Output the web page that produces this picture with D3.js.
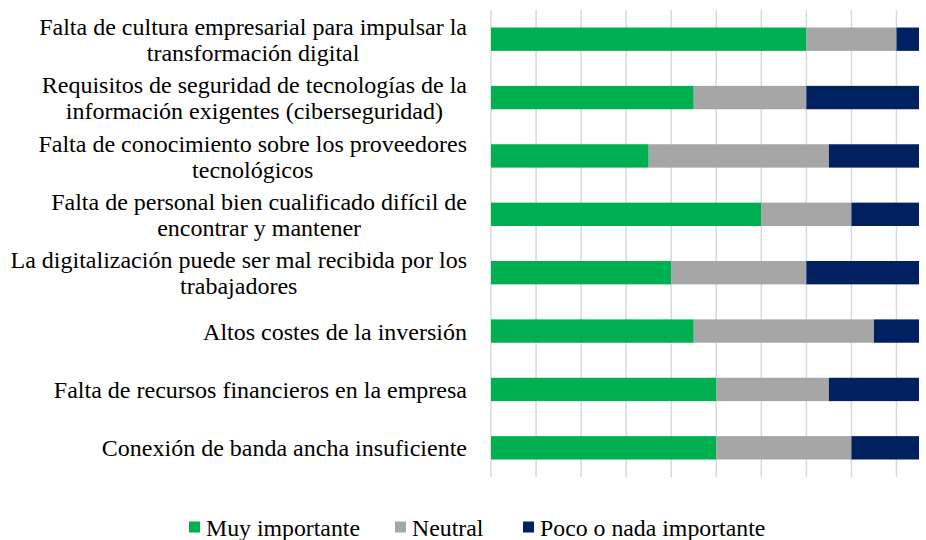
<!DOCTYPE html>
<html>
<head>
<meta charset="utf-8">
<script src="https://cdn.jsdelivr.net/npm/d3@7"></script>
<style>
  html, body { margin: 0; padding: 0; background: #fff; }
  svg { display: block; font-family: "Liberation Serif", "Times New Roman", serif; }
</style>
</head>
<body>
<svg id="chart" width="926" height="540"></svg>
<script>
// Barriers to digitalisation — responses per category (n = 19)
const categories = [
  ['Falta de cultura empresarial para impulsar la', 'transformación digital'],
  ['Requisitos de seguridad de tecnologías de la', 'información exigentes (ciberseguridad)'],
  ['Falta de conocimiento sobre los proveedores', 'tecnológicos'],
  ['Falta de personal bien cualificado difícil de', 'encontrar y mantener'],
  ['La digitalización puede ser mal recibida por los', 'trabajadores'],
  ['Altos costes de la inversión'],
  ['Falta de recursos financieros en la empresa'],
  ['Conexión de banda ancha insuficiente'],
];
const seriesNames = ['Muy importante', 'Neutral', 'Poco o nada importante'];
const muyImportante = [14, 9, 7, 12, 8, 9, 10, 10];
const neutral       = [4, 5, 8, 4, 6, 8, 5, 6];
const pocoONada     = [1, 5, 4, 3, 5, 2, 4, 3];
const gridTicks = [0, 2, 4, 6, 8, 10, 12, 14, 16, 18];
const xMax = 19;

const colors = ['#00B050', '#A6A6A6', '#002060'];

const svg = d3.select('#chart');
const plot = { left: 491, right: 919, top: 10, bottom: 477 };

const rows = categories.map((c, i) => ({
  key: i, label: c,
  [seriesNames[0]]: muyImportante[i],
  [seriesNames[1]]: neutral[i],
  [seriesNames[2]]: pocoONada[i],
}));

const x = d3.scaleLinear().domain([0, xMax]).range([plot.left, plot.right]);
const y = d3.scaleBand().domain(rows.map(r => r.key))
  .range([plot.top, plot.bottom]).paddingInner(0.6).paddingOuter(0.3);

// vertical gridlines (no tick labels in the original)
svg.append('g')
  .selectAll('line')
  .data(gridTicks)
  .join('line')
    .attr('x1', d => x(d)).attr('x2', d => x(d))
    .attr('y1', plot.top).attr('y2', plot.bottom)
    .attr('stroke', '#D9D9D9').attr('stroke-width', 1.5);

const stacked = d3.stack().keys(seriesNames)(rows);

svg.append('g')
  .selectAll('g')
  .data(stacked)
  .join('g')
    .attr('fill', (d, i) => colors[i])
  .selectAll('rect')
  .data(d => d)
  .join('rect')
    .attr('x', d => x(d[0]))
    .attr('y', d => y(d.data.key))
    .attr('width', d => x(d[1]) - x(d[0]))
    .attr('height', y.bandwidth());

// category labels: lines centred on each other, block right-aligned
const fontSize = 24;
const lineGap = 26;
const labelRight = 467;
const labels = svg.append('g').attr('font-size', fontSize).attr('fill', '#000');
rows.forEach(r => {
  const cy = y(r.key) + y.bandwidth() / 2;
  const g = labels.append('g');
  const n = r.label.length;
  const texts = r.label.map((line, j) => g.append('text')
    .attr('y', cy + (j - (n - 1) / 2) * lineGap + fontSize * 0.36)
    .attr('text-anchor', 'middle')
    .text(line));
  const maxW = d3.max(texts, t => t.node().getComputedTextLength());
  texts.forEach(t => t.attr('x', labelRight - maxW / 2));
});

// legend
const legend = svg.append('g').attr('font-size', 23.8);
const legendX = [189, 395, 523];
seriesNames.forEach((name, i) => {
  const g = legend.append('g').attr('transform', `translate(${legendX[i]}, 0)`);
  g.append('rect').attr('x', 0).attr('y', 521.5).attr('width', 11).attr('height', 11)
    .attr('fill', colors[i]);
  g.append('text').attr('x', 17).attr('y', 536).text(name);
});
</script>
</body>
</html>
